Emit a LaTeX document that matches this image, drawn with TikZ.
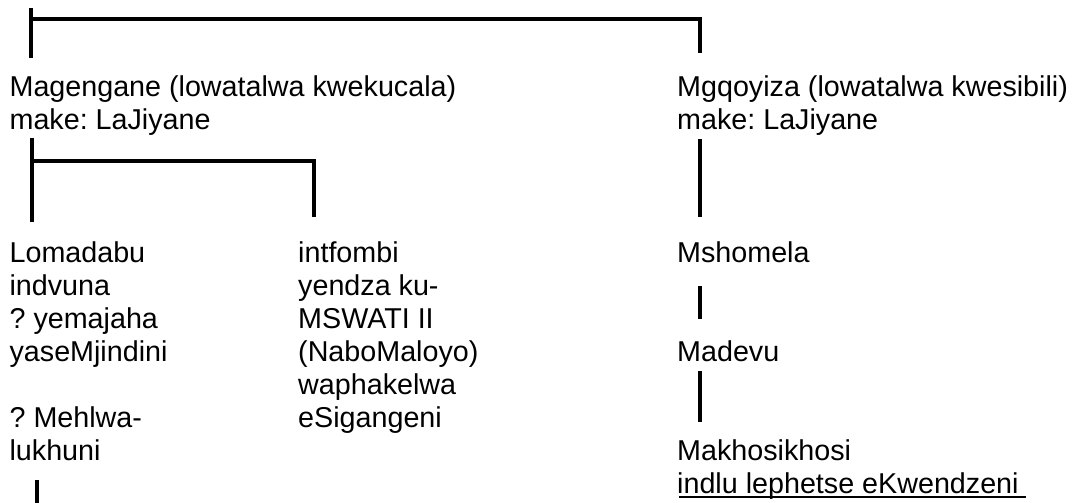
\documentclass[tikz,border=0pt]{standalone}
\usepackage{fontspec}
\setmainfont{Liberation Sans}
\frenchspacing

\begin{document}
\begin{tikzpicture}[
    x=1pt,
    y=-1pt,
    line join=miter,
    line cap=butt,
    person/.style={font=\fontsize{28.7pt}{33pt}\selectfont, align=left, anchor=base west, inner sep=0pt},
    link/.style={line width=3.3pt, black},
    underrule/.style={line width=2.2pt, black}
]

\useasboundingbox (0,0) rectangle (1088,503);

% -------------------------------------------------
% People (anchored at the baseline of the last line)
% -------------------------------------------------
\node[person] (mag) at (9.4,129.2)
{Magengane (lowatalwa kwekucala)\\make: LaJiyane};
\node[person] (mgq) at (677,129.2)
{Mgqoyiza (lowatalwa kwesibili)\\make: LaJiyane};

\node[person] (lom) at (9.4,460)
{Lomadabu\\indvuna\\? yemajaha\\yaseMjindini\\[33pt]? Mehlwa-\\lukhuni};
\node[person] (intf) at (298,427)
{intfombi\\yendza ku-\\MSWATI II\\(NaboMaloyo)\\waphakelwa\\eSigangeni};

\node[person] (msh) at (677,262) {Mshomela};
\node[person] (mad) at (677,361) {Madevu};
\node[person] (mak) at (677,493)
{Makhosikhosi\\indlu lephetse eKwendzeni};

% -------------------------------------------------
% Bracket points
% -------------------------------------------------
\coordinate (topL)  at (31,8);
\coordinate (topLb) at (31,58);
\coordinate (topLh) at (31,19);
\coordinate (topR)  at (700,19);
\coordinate (topRb) at (700,53);

\coordinate (magL)  at (32,138);
\coordinate (magLb) at (32,222);
\coordinate (magLh) at (32,161);
\coordinate (magR)  at (314,161);
\coordinate (magRb) at (314,217);

\coordinate (mgqT) at (700,139);
\coordinate (mgqB) at (700,217);
\coordinate (mshT) at (700,286);
\coordinate (mshB) at (700,319);
\coordinate (madT) at (700,371);
\coordinate (madB) at (700,422);
\coordinate (lomT) at (37,480);
\coordinate (lomB) at (37,503);

\coordinate (ulA) at (679,497);
\coordinate (ulB) at (1026,497);

% -------------------------------------------------
% Lines
% -------------------------------------------------
\draw[link] (topL) -- (topLb);
\draw[link] (topLh) -- (topR) -- (topRb);
\draw[link] (magL) -- (magLb);
\draw[link] (magLh) -- (magR) -- (magRb);

\foreach \a/\b in {mgqT/mgqB,mshT/mshB,madT/madB,lomT/lomB} {
    \draw[link] (\a) -- (\b);
}

\draw[underrule] (ulA) -- (ulB);

\end{tikzpicture}
\end{document}
